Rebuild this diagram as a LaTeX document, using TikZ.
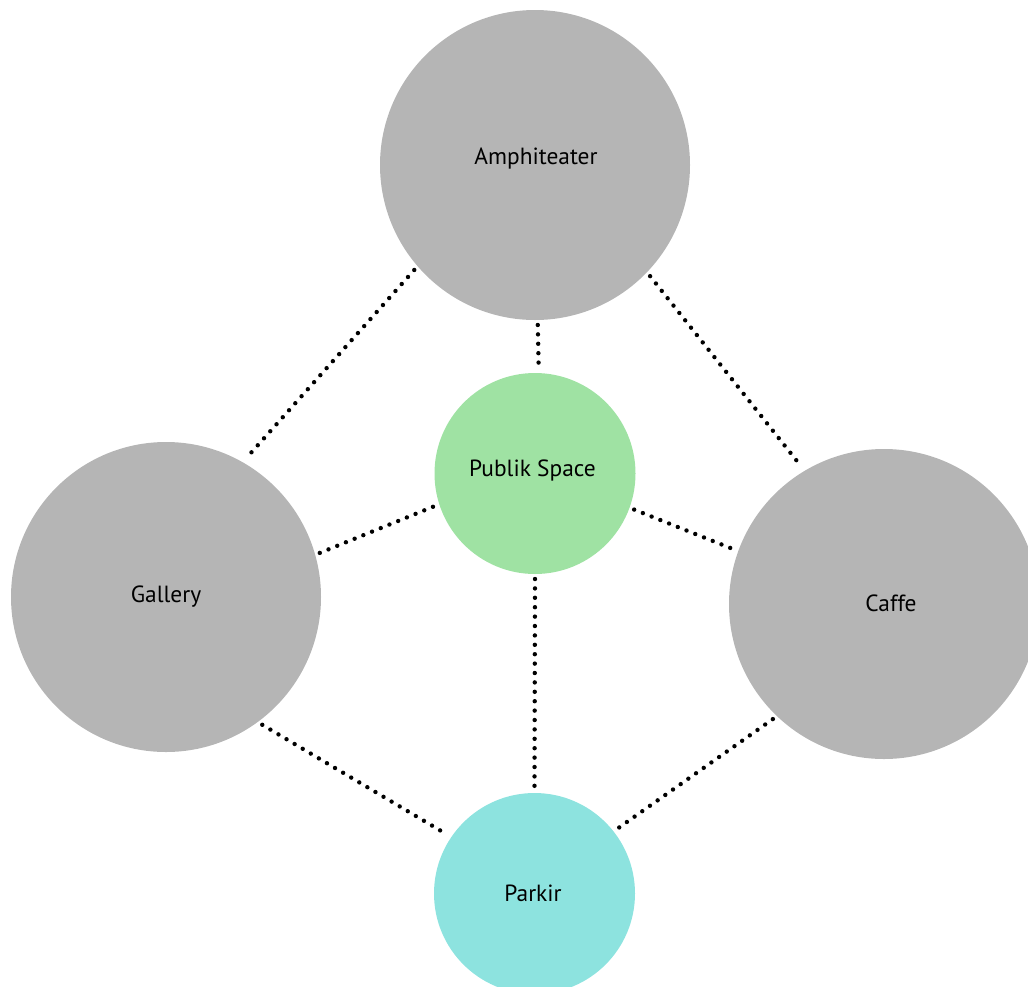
\documentclass[tikz,border=0pt]{standalone}
\usepackage{fontspec}
\setmainfont{PT Sans}
\definecolor{roomgrey}{HTML}{B5B5B5}
\definecolor{publicgreen}{HTML}{9FE2A3}
\definecolor{parkcyan}{HTML}{8DE3DF}
\begin{document}
\begin{tikzpicture}[x=1pt,y=-1pt,
  room/.style={circle,fill=#1,draw=none,inner sep=0pt,outer sep=5pt},
  bigroom/.style={room=roomgrey,minimum size=310pt},
  smallroom/.style={room=#1,minimum size=201pt},
  roomname/.style={anchor=base,font=\fontsize{23.4}{26}\selectfont,text=black,inner sep=0pt},
  link/.style={line width=4.4pt,line cap=round,dash pattern=on 0pt off 9.4pt,black}]
\useasboundingbox (0,0) rectangle (1028,986);
\clip (0,0) rectangle (1028,986);
% rooms
\node[bigroom] (amph) at (535,165) {};
\node[bigroom] (gal) at (166,597) {};
\node[bigroom] (caffe) at (884,604) {};
\node[smallroom=publicgreen] (pub) at (535,473.5) {};
\node[smallroom=parkcyan] (park) at (534.5,893.5) {};
% names
\node[roomname] (amphname) at (536,164.5) {Amphiteater};
\node[roomname] (pubname) at (532.5,476) {Publik Space};
\node[roomname] (galname) at (166,602) {Gallery};
\node[roomname] (caffename) at (891,611) {Caffe};
\node[roomname] (parkname) at (533,901.5) {Parkir};
% dotted relations
\draw[link] (amph.221.4) -- (gal.60);
\draw[link] (amph.316.5) -- (caffe.121.1);
\draw[link] (amph.271.2) -- (pub.88);
\draw[link] (gal.16.7) -- (pub.198);
\draw[link] (pub.340.6) -- (caffe.160.9);
\draw[link] (pub.270) -- (park.90.6);
\draw[link] (gal.307.2) -- (park.146.6);
\draw[link] (caffe.226.5) -- (park.38.3);
\end{tikzpicture}
\end{document}
